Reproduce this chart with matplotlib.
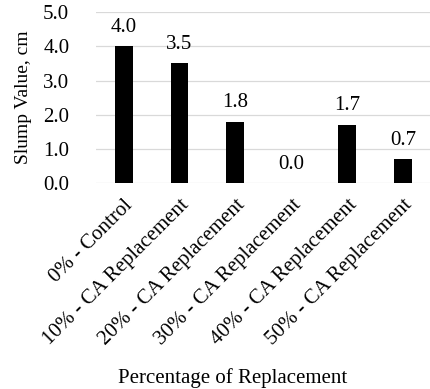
import matplotlib
matplotlib.use("Agg")
import matplotlib.pyplot as plt
import numpy as np

categories = ["0% - Control", "10% - CA Replacement", "20% - CA Replacement",
              "30% - CA Replacement", "40% - CA Replacement", "50% - CA Replacement"]
slump = [4.0, 3.5, 1.8, 0.0, 1.7, 0.7]
yticks = [0.0, 1.0, 2.0, 3.0, 4.0, 5.0]

plt.rcParams["font.family"] = ["Liberation Serif", "DejaVu Serif"]
plt.rcParams["font.size"] = 15

fig = plt.figure(figsize=(4.31, 3.89), dpi=100)
ax = fig.add_axes([0.222, 0.529, 0.778, 0.44])

x = np.arange(len(categories))
ax.bar(x, slump, width=0.32, color="black", zorder=3)
for xi, v in zip(x, slump):
    ax.text(xi, v + 0.28, f"{v:.1f}", ha="center", va="bottom", fontsize=15)

ax.set_ylim(0, 5)
ax.set_xlim(-0.5, len(categories) - 0.5)
ax.set_yticks(yticks)
ax.set_yticklabels([f"{t:.1f}" for t in yticks])
ax.yaxis.grid(True, color="#d9d9d9", linewidth=0.9, zorder=0)
ax.set_axisbelow(True)
for s in ax.spines.values():
    s.set_visible(False)
ax.tick_params(axis="y", length=0, pad=19)

ax.set_xticks(x)
ax.set_xticklabels(categories, rotation=45, ha="right", rotation_mode="anchor")
ax.tick_params(axis="x", length=0, pad=9)

ax.set_ylabel("Slump Value, cm", fontsize=14, labelpad=8)
fig.text(0.54, 0.028, "Percentage of Replacement", ha="center", va="center", fontsize=15)

fig.savefig("out.png", dpi=100)
